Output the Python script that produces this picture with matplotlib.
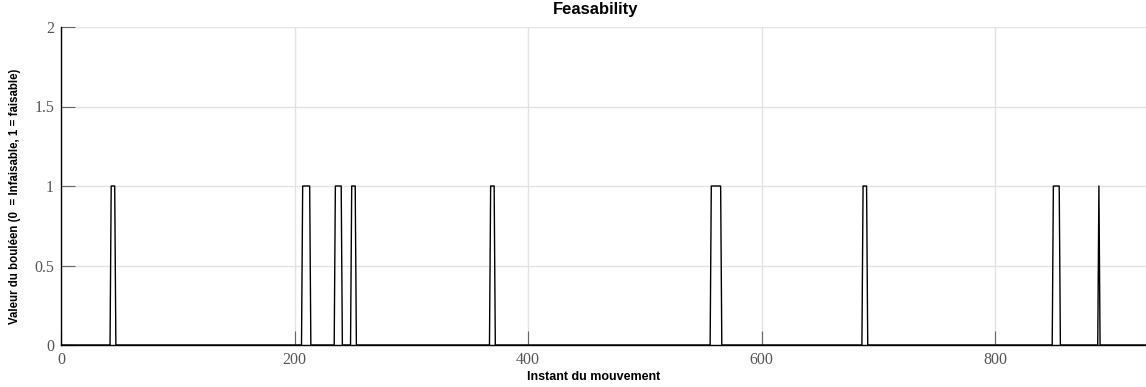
import matplotlib.pyplot as plt
import numpy as np

# feasibility pulses: first and last sample at value 1
onStart = [43, 207, 235, 249, 368, 557, 687, 850, 889]
onEnd = [46, 213, 240, 252, 371, 565, 690, 855, 889]
nSamples = 935

xTicks = [0, 200, 400, 600, 800]
yTicks = [0, 0.5, 1, 1.5, 2]
yTickLabels = ['0', '0.5', '1', '1.5', '2']

t = np.arange(nSamples)
feasible = np.zeros(nSamples)
for a, b in zip(onStart, onEnd):
    feasible[a:b + 1] = 1

W, H = 1146, 387
fig = plt.figure(figsize=(W / 100, H / 100), dpi=100)
ax = fig.add_axes([61 / W, 1 - 345 / H, (W - 61) / W, (345 - 27) / H])

ax.plot(t, feasible, color='black', lw=1.0)
ax.set_xlim(0, (W - 61) / 1.1675)
ax.set_ylim(0, 2)

ax.set_xticks(xTicks)
ax.set_yticks(yTicks)
ax.set_yticklabels(yTickLabels)
ax.tick_params(direction='in', length=10, width=0.8, color='#666666',
               labelcolor='#555555', pad=5)
for lab in ax.get_xticklabels() + ax.get_yticklabels():
    lab.set_family('Liberation Serif')
    lab.set_fontsize(11.5)

ax.grid(True, color='#e3e3e3', lw=1)
ax.set_axisbelow(True)
ax.spines['top'].set_visible(False)
ax.spines['right'].set_visible(False)
ax.spines['left'].set_linewidth(1.0)
ax.spines['bottom'].set_linewidth(1.0)

ax.text((596 - 61) / (W - 61), 1 + 17 / 318, 'Feasability', transform=ax.transAxes,
        ha='center', va='center', fontsize=12, fontweight='bold', family='Liberation Sans')
ax.text((594 - 61) / (W - 61), -32 / 318, 'Instant du mouvement', transform=ax.transAxes,
        ha='center', va='center', fontsize=9, fontweight='bold', family='Liberation Sans')
fig.text(15 / W, 1 - 196 / H, 'Valeur du bouléen (0  = Infaisable, 1 = faisable)',
         rotation=90, ha='center', va='center', fontsize=8.3, fontweight='bold',
         family='Liberation Sans')

fig.savefig('out.png', dpi=100)
